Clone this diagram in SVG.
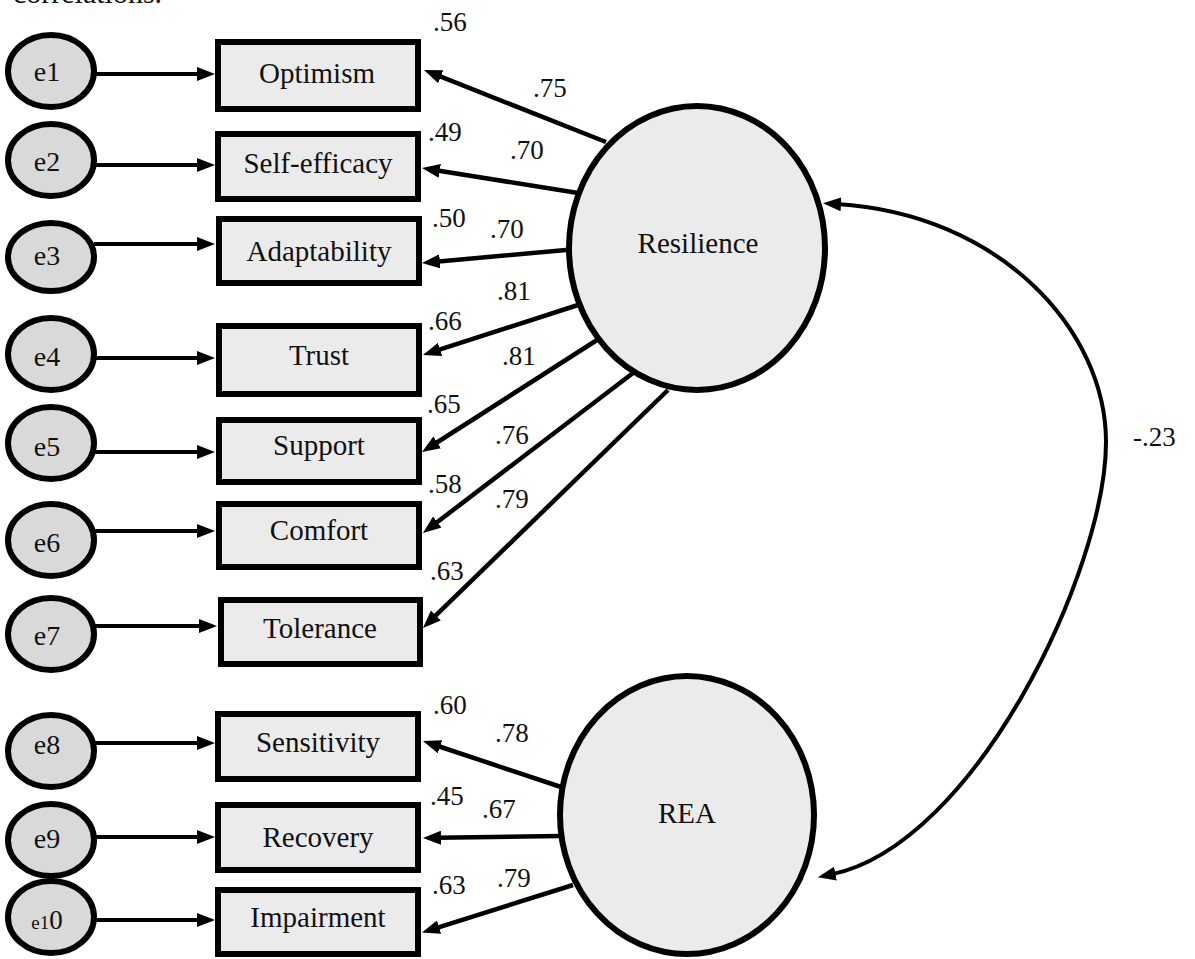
<svg xmlns="http://www.w3.org/2000/svg" width="1195" height="959" viewBox="0 0 1195 959" font-family="'Liberation Serif', 'Times New Roman', Tinos, 'DejaVu Serif', serif">
<style>
text{font-family:"Liberation Serif","Times New Roman",Tinos,"DejaVu Serif",serif;fill:#111}
.err ellipse{fill:#d9d9d9;stroke:#000;stroke-width:6}
.err text{font-size:28px;text-anchor:middle}
.obs rect{fill:#ebebeb;stroke:#000;stroke-width:6}
.obs text{font-size:29px;text-anchor:middle}
.lat ellipse{fill:#ebebeb;stroke:#000;stroke-width:6}
.lat text{font-size:29px;text-anchor:middle}
.lbl{font-size:27px}
#connectors line,#connectors path{stroke:#000;fill:none}
.ld{stroke-width:4.5;marker-end:url(#ah)}
.ea{stroke-width:4;marker-end:url(#ah)}
.cv{stroke-width:4;marker-start:url(#ah);marker-end:url(#ah)}
</style>
<defs>
<marker id="ah" markerUnits="userSpaceOnUse" markerWidth="19" markerHeight="14" viewBox="0 0 19 14" refX="4" refY="7" orient="auto-start-reverse">
<path d="M0,0 L18,7 L0,14 z" fill="#000"/>
</marker>
</defs>
<rect width="1195" height="959" fill="#fff"/>
<text x="13" y="3" style="font-size:30px">correlations.</text>

<g id="e1" class="err"><ellipse cx="51" cy="71" rx="43" ry="36"/><text x="47" y="81">e1</text></g>
<g id="e2" class="err"><ellipse cx="51" cy="160" rx="43" ry="36"/><text x="47" y="171">e2</text></g>
<g id="e3" class="err"><ellipse cx="51" cy="257" rx="43" ry="34"/><text x="47" y="265">e3</text></g>
<g id="e4" class="err"><ellipse cx="51" cy="354" rx="43" ry="36"/><text x="47" y="366">e4</text></g>
<g id="e5" class="err"><ellipse cx="51" cy="443" rx="43" ry="36"/><text x="47" y="456">e5</text></g>
<g id="e6" class="err"><ellipse cx="51" cy="540" rx="43" ry="36"/><text x="47" y="552">e6</text></g>
<g id="e7" class="err"><ellipse cx="51" cy="634" rx="43" ry="36"/><text x="47" y="645">e7</text></g>
<g id="e8" class="err"><ellipse cx="51" cy="751" rx="43" ry="36"/><text x="47" y="754">e8</text></g>
<g id="e9" class="err"><ellipse cx="51" cy="840" rx="43" ry="36"/><text x="47" y="848">e9</text></g>
<g id="e10" class="err"><ellipse cx="51" cy="917" rx="43" ry="36"/><text x="47" y="929"><tspan style="font-size:19px">e1</tspan><tspan style="font-size:27px">0</tspan></text></g>

<g id="optimism" class="obs"><rect x="218" y="42" width="200" height="67"/><text x="317" y="83">Optimism</text></g>
<g id="self-efficacy" class="obs"><rect x="218" y="134" width="200" height="65"/><text x="318" y="173">Self-efficacy</text></g>
<g id="adaptability" class="obs"><rect x="219" y="219" width="200" height="64"/><text x="319" y="261">Adaptability</text></g>
<g id="trust" class="obs"><rect x="219" y="326" width="200" height="68"/><text x="319" y="365">Trust</text></g>
<g id="support" class="obs"><rect x="219" y="420" width="200" height="62"/><text x="319" y="455">Support</text></g>
<g id="comfort" class="obs"><rect x="219" y="504" width="200" height="63"/><text x="319" y="540">Comfort</text></g>
<g id="tolerance" class="obs"><rect x="221" y="600" width="199" height="64"/><text x="320" y="638">Tolerance</text></g>
<g id="sensitivity" class="obs"><rect x="218" y="714" width="200" height="65"/><text x="318" y="752">Sensitivity</text></g>
<g id="recovery" class="obs"><rect x="218" y="805" width="200" height="65"/><text x="318" y="847">Recovery</text></g>
<g id="impairment" class="obs"><rect x="218" y="890" width="200" height="64"/><text x="318" y="927">Impairment</text></g>

<g id="resilience" class="lat"><ellipse cx="697" cy="248" rx="128" ry="142"/><text x="698" y="253">Resilience</text></g>
<g id="rea" class="lat"><ellipse cx="687" cy="815" rx="127" ry="139"/><text x="687" y="823">REA</text></g>

<g id="connectors">
<line class="ea" x1="94" y1="74" x2="201" y2="74"/>
<line class="ea" x1="94" y1="165" x2="201" y2="165"/>
<line class="ea" x1="94" y1="244" x2="201" y2="244"/>
<line class="ea" x1="94" y1="358" x2="201" y2="358"/>
<line class="ea" x1="94" y1="452" x2="201" y2="452"/>
<line class="ea" x1="94" y1="531" x2="201" y2="531"/>
<line class="ea" x1="94" y1="626" x2="203" y2="626"/>
<line class="ea" x1="94" y1="743" x2="201" y2="743"/>
<line class="ea" x1="94" y1="837" x2="201" y2="837"/>
<line class="ea" x1="94" y1="920" x2="201" y2="920"/>

<line class="ld" x1="606" y1="142" x2="437" y2="75.2"/>
<line class="ld" x1="578" y1="193" x2="435.8" y2="170.2"/>
<line class="ld" x1="566" y1="250" x2="435.9" y2="261.7"/>
<line class="ld" x1="578" y1="305" x2="436.3" y2="350.7"/>
<line class="ld" x1="597" y1="340" x2="433.8" y2="444.5"/>
<line class="ld" x1="633" y1="373" x2="434.1" y2="524.5"/>
<line class="ld" x1="668" y1="390" x2="433" y2="618.2"/>
<line class="ld" x1="561" y1="787" x2="436.3" y2="745.5"/>
<line class="ld" x1="560" y1="836" x2="437" y2="837.8"/>
<line class="ld" x1="573" y1="885" x2="435.3" y2="928.3"/>

<path class="cv" d="M837,204 C1000,214 1106,330 1106,442 C1106,570 975,845 831.5,874.4"/>
</g>

<g id="labels">
<text class="lbl" x="433" y="31">.56</text>
<text class="lbl" x="533" y="97">.75</text>
<text class="lbl" x="428" y="141">.49</text>
<text class="lbl" x="510" y="159">.70</text>
<text class="lbl" x="432" y="227">.50</text>
<text class="lbl" x="490" y="238">.70</text>
<text class="lbl" x="497" y="300">.81</text>
<text class="lbl" x="428" y="330">.66</text>
<text class="lbl" x="502" y="365">.81</text>
<text class="lbl" x="427" y="413">.65</text>
<text class="lbl" x="495" y="444">.76</text>
<text class="lbl" x="428" y="493">.58</text>
<text class="lbl" x="495" y="508">.79</text>
<text class="lbl" x="430" y="580">.63</text>
<text class="lbl" x="433" y="714">.60</text>
<text class="lbl" x="495" y="742">.78</text>
<text class="lbl" x="430" y="805">.45</text>
<text class="lbl" x="482" y="818">.67</text>
<text class="lbl" x="432" y="894">.63</text>
<text class="lbl" x="497" y="887">.79</text>
<text class="lbl" x="1133" y="446">-.23</text>
</g>
</svg>
